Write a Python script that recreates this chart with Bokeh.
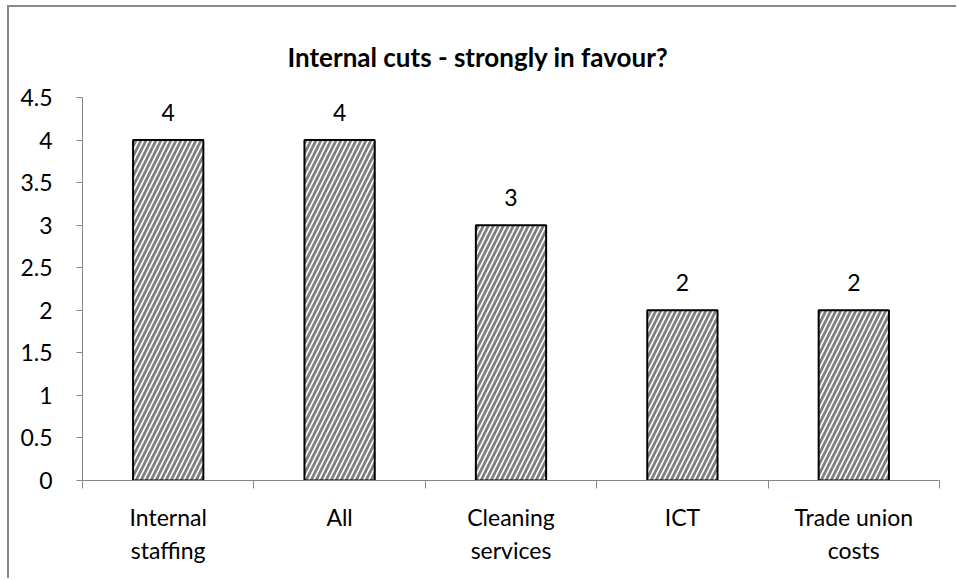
from bokeh.plotting import figure
from bokeh.models import (ColumnDataSource, FixedTicker, LinearAxis, Range1d,
                          SingleIntervalTicker, NumeralTickFormatter, Title)
from bokeh.core.properties import value
from bokeh.embed import file_html
from bokeh.resources import INLINE

# ---- data ----
categories = ["Internal\nstaffing", "All", "Cleaning\nservices", "ICT", "Trade union\ncosts"]
values = [4, 4, 3, 2, 2]
title_text = "Internal cuts - strongly in favour?"

FONT = "Lato"
AXIS_GREY = "#868686"

n = len(categories)
xs = [i + 0.5 for i in range(n)]
line1 = [c.split("\n")[0] for c in categories]
line2 = [c.split("\n")[1] if "\n" in c else "" for c in categories]

src = ColumnDataSource(dict(x=xs, top=values, label=[str(v) for v in values]))

p = figure(width=949, height=573, output_backend="svg",
           toolbar_location=None, x_range=Range1d(0, n), y_range=Range1d(0, 4.5),
           x_axis_location=None, y_axis_location=None,
           min_border_left=73, min_border_top=90, min_border_right=19,
           min_border_bottom=100)
p.outline_line_color = None
p.xgrid.visible = False
p.ygrid.visible = False
p.background_fill_color = "white"
p.border_fill_color = "white"
p.styles = {"border-top": "2px solid #888888", "border-left": "2px solid #888888",
            "margin-top": "5px", "margin-left": "7px"}

t = Title(text=title_text, align="left", text_font=FONT, text_font_size="26px",
          text_font_style="bold", text_color="black", offset=205, standoff=50)
p.add_layout(t, "above")

p.vbar(x="x", top="top", width=0.41, source=src, fill_color="white",
       line_color="black", line_width=2, hatch_pattern="/",
       hatch_color="#808080", hatch_scale=10, hatch_weight=2.8)

p.text(x="x", y="top", text="label", source=src, text_align="center",
       text_baseline="alphabetic", y_offset=-28, text_font=value(FONT),
       text_font_size="23px", text_color="black")

# y axis
ya = LinearAxis(ticker=SingleIntervalTicker(interval=0.5),
                formatter=NumeralTickFormatter(format="0.[0]"))
ya.axis_line_color = AXIS_GREY
ya.major_tick_line_color = AXIS_GREY
ya.major_tick_out = 6
ya.major_tick_in = 0
ya.minor_tick_line_color = None
ya.major_label_standoff = 24
ya.major_label_text_font = FONT
ya.major_label_text_font_size = "23px"
ya.major_label_text_color = "black"
p.add_layout(ya, "left")

# x axis: first line of labels, boundary ticks
xa = LinearAxis(ticker=FixedTicker(ticks=xs, minor_ticks=list(range(n + 1))))
xa.major_label_overrides = {x: l for x, l in zip(xs, line1)}
xa.axis_line_color = AXIS_GREY
xa.major_tick_line_color = None
xa.major_tick_out = 0
xa.major_tick_in = 0
xa.minor_tick_line_color = AXIS_GREY
xa.minor_tick_out = 8
xa.minor_tick_in = 0
xa.major_label_standoff = 14
xa.major_label_text_font = FONT
xa.major_label_text_font_size = "23px"
xa.major_label_text_color = "black"
p.add_layout(xa, "below")

# x axis: second line of labels
xb = LinearAxis(ticker=FixedTicker(ticks=xs))
xb.major_label_overrides = {x: (l if l else " ") for x, l in zip(xs, line2)}
xb.axis_line_color = None
xb.major_tick_line_color = None
xb.minor_tick_line_color = None
xb.major_tick_out = 0
xb.major_tick_in = 0
xb.major_label_standoff = 2
xb.major_label_text_font = FONT
xb.major_label_text_font_size = "23px"
xb.major_label_text_color = "black"
p.add_layout(xb, "below")

open("out.html", "w").write(file_html(p, INLINE))
